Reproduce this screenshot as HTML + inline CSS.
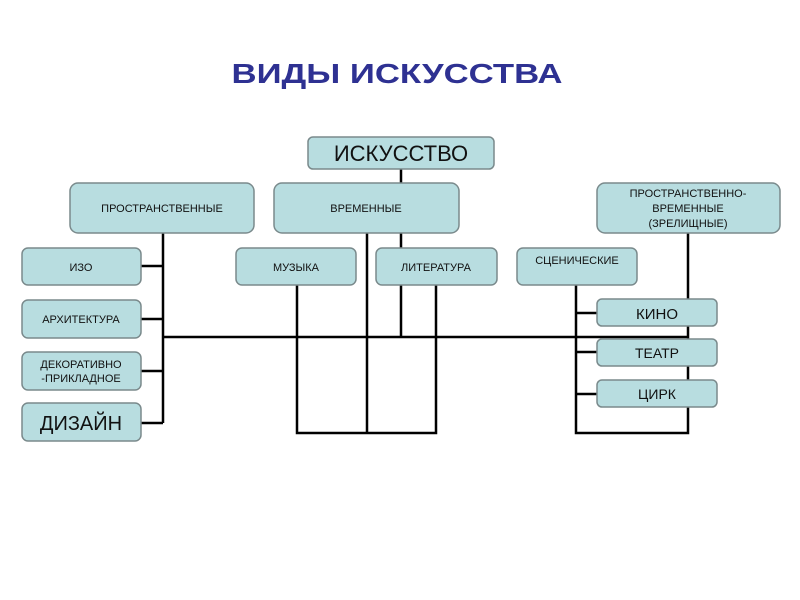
<!DOCTYPE html>
<html><head><meta charset="utf-8"><style>
html,body{margin:0;padding:0;background:#fff;}
svg{display:block;}
text{font-family:"Liberation Sans",sans-serif;fill:#111;}
</style></head><body>
<svg width="800" height="600" xmlns="http://www.w3.org/2000/svg">
<text x="397" y="83" text-anchor="middle" font-size="28" font-weight="bold" style="fill:#2e3192" textLength="331" lengthAdjust="spacingAndGlyphs">ВИДЫ ИСКУССТВА</text>
<g stroke="#000" stroke-width="2.5" fill="none">
<line x1="401" y1="169" x2="401" y2="337"/>
<line x1="163" y1="233" x2="163" y2="423"/>
<line x1="141" y1="266" x2="163" y2="266"/>
<line x1="141" y1="319" x2="163" y2="319"/>
<line x1="141" y1="371" x2="163" y2="371"/>
<line x1="141" y1="423" x2="163" y2="423"/>
<line x1="163" y1="337" x2="688" y2="337"/>
<polyline points="297,285 297,433 436,433 436,285"/>
<line x1="367" y1="233" x2="367" y2="433"/>
<polyline points="576,285 576,433 688,433 688,233"/>
<line x1="576" y1="313" x2="597" y2="313"/>
<line x1="576" y1="352" x2="597" y2="352"/>
<line x1="576" y1="394" x2="597" y2="394"/>
</g>
<g fill="#b8dde0" stroke="#7a8a8c" stroke-width="1.5">
<rect x="308" y="137" width="186" height="32" rx="5"/>
<rect x="70" y="183" width="184" height="50" rx="8"/>
<rect x="274" y="183" width="185" height="50" rx="8"/>
<rect x="597" y="183" width="183" height="50" rx="8"/>
<rect x="22" y="248" width="119" height="37" rx="6"/>
<rect x="22" y="300" width="119" height="38" rx="6"/>
<rect x="22" y="352" width="119" height="38" rx="6"/>
<rect x="22" y="403" width="119" height="38" rx="6"/>
<rect x="236" y="248" width="120" height="37" rx="6"/>
<rect x="376" y="248" width="121" height="37" rx="6"/>
<rect x="517" y="248" width="120" height="37" rx="6"/>
<rect x="597" y="299" width="120" height="27" rx="5"/>
<rect x="597" y="339" width="120" height="27" rx="5"/>
<rect x="597" y="380" width="120" height="27" rx="5"/>
</g>
<g text-anchor="middle">
<text x="401" y="161" font-size="22">ИСКУССТВО</text>
<text x="162" y="212" font-size="11">ПРОСТРАНСТВЕННЫЕ</text>
<text x="366" y="212" font-size="11">ВРЕМЕННЫЕ</text>
<text x="688" y="197" font-size="11">ПРОСТРАНСТВЕННО-</text>
<text x="688" y="212" font-size="11">ВРЕМЕННЫЕ</text>
<text x="688" y="227" font-size="11">(ЗРЕЛИЩНЫЕ)</text>
<text x="81" y="271" font-size="11">ИЗО</text>
<text x="81" y="323" font-size="11">АРХИТЕКТУРА</text>
<text x="81" y="368" font-size="11">ДЕКОРАТИВНО</text>
<text x="81" y="382" font-size="11">-ПРИКЛАДНОЕ</text>
<text x="81" y="430" font-size="20">ДИЗАЙН</text>
<text x="296" y="271" font-size="11">МУЗЫКА</text>
<text x="436" y="271" font-size="11">ЛИТЕРАТУРА</text>
<text x="577" y="264" font-size="11">СЦЕНИЧЕСКИЕ</text>
<text x="657" y="319" font-size="15">КИНО</text>
<text x="657" y="358" font-size="14">ТЕАТР</text>
<text x="657" y="399" font-size="14">ЦИРК</text>
</g>
</svg>
</body></html>
